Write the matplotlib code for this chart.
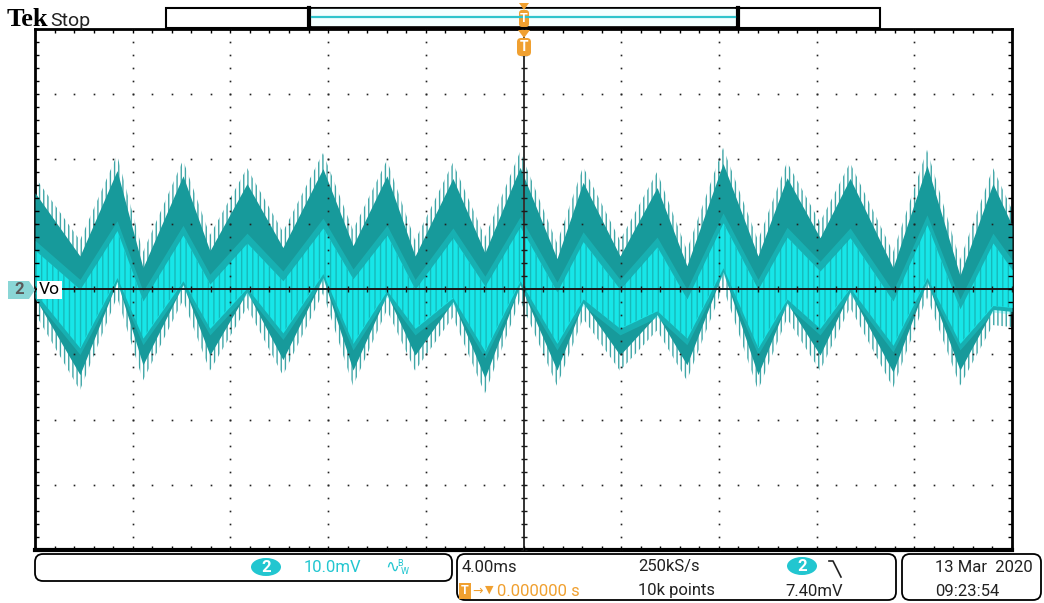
import numpy as np
import matplotlib.pyplot as plt
from matplotlib.patches import FancyBboxPatch, Rectangle, Polygon, Ellipse

plt.rcParams['font.family'] = ['Roboto', 'DejaVu Sans']
plt.rcParams['hatch.linewidth'] = 1.0

W, H = 1044, 603

# channel 2 (Vo) envelope, 4 ms/div, 10 mV/div
t_ms = [-20.0, -18.16, -16.64, -15.58, -13.94, -12.84, -11.32, -9.85, -8.21, -6.98,
        -5.59, -4.44, -2.89, -1.58, -0.14, 1.37, 2.44, 3.95, 5.47, 6.69,
        8.17, 9.60, 10.79, 12.14, 13.37, 15.13, 16.52, 17.87, 19.22, 20.0]
upper_mv = [17.2, 7.5, 20.6, 5.7, 19.8, 8.3, 18.6, 8.8, 20.9, 9.1,
            19.8, 7.5, 19.4, 8.0, 21.1, 7.1, 18.8, 7.5, 18.0, 6.0,
            21.7, 7.5, 19.5, 10.3, 19.4, 5.7, 21.4, 4.5, 18.6, 12.2]
lower_mv = [-3.7, -15.5, -1.2, -14.0, -1.7, -12.5, -2.8, -13.2, -0.6, -14.8,
            -3.2, -12.5, -4.3, -16.0, -1.7, -14.8, -4.5, -12.5, -6.3, -14.0,
            0.3, -15.5, -4.5, -12.5, -2.8, -15.1, -1.2, -14.8, -5.5, -5.8]
# brightest (most frequently hit) part of the trace
core_top_mv = [6.0, 0.0, 9.0, -1.8, 8.3, 0.8, 7.1, 1.3, 9.4, 1.6,
               8.3, 0.0, 7.9, 0.5, 9.6, -0.4, 7.3, 0.0, 6.5, -1.5,
               10.2, 0.0, 8.0, 2.8, 7.9, -1.8, 9.9, -3.0, 7.1, 3.0]
core_bot_mv = [-0.5, -9.0, 1.8, -7.5, 1.3, -6.0, 0.2, -6.7, 2.4, -8.3,
               -0.2, -6.0, -1.3, -9.5, 1.3, -8.3, -1.5, -6.0, -3.3, -7.5,
               3.3, -9.0, -1.5, -6.0, 0.2, -8.6, 1.8, -8.3, -2.5, -2.8]

ch_scale = "10.0mV"
time_scale = "4.00ms"
sample_rate = "250kS/s"
record_len = "10k points"
trig_level = "7.40mV"
trig_pos = "0.000000 s"
date_str = "13 Mar  2020"
clock_str = "09:23:54"

TEAL = '#179a9b'
SPIKE = '#3ea6a7'
CYAN = '#17e6e8'
ORANGE = '#f0a030'
CH2 = '#22c6d0'
FRINGE = 2.4

t = np.array(t_ms)
up = np.array(upper_mv)
lo = np.array(lower_mv)
ct = np.array(core_top_mv)
cb = np.array(core_bot_mv)

fig = plt.figure(figsize=(W / 100, H / 100), dpi=100)

# scope graticule
ax = fig.add_axes([35 / W, 1 - 550 / H, 977 / W, 521.5 / H])
ax.set_xlim(-20, 20)
ax.set_ylim(-40, 40)
ax.set_xticks([])
ax.set_yticks([])
for side in ax.spines.values():
    side.set_linewidth(2)
    side.set_color('black')
ax.spines['bottom'].set_linewidth(3)

# trace: spiky fringe, solid body, bright core with streaks
ax.fill_between(t, up, lo, facecolor='none', edgecolor=SPIKE, hatch='||||', linewidth=0, zorder=2)
ax.fill_between(t, up - FRINGE, lo + FRINGE, color=TEAL, linewidth=0, zorder=3)
ax.fill_between(t, ct + 1.5, cb - 1.0, color=CYAN, alpha=0.3, linewidth=0, zorder=4)
ax.fill_between(t, ct, cb, color=CYAN, linewidth=0, zorder=4)
ax.fill_between(t, ct, cb, facecolor='none', edgecolor=TEAL, alpha=0.6,
                hatch='|||', linewidth=0, zorder=4)

gx = np.arange(-20, 20.01, 0.8)
gy = np.arange(-40, 40.01, 2)
for xv in (-16, -12, -8, -4, 4, 8, 12, 16):
    ax.plot(np.full_like(gy, xv), gy, ls='none', marker='s', ms=1.2, mew=0, color='#222', zorder=6)
for yv in (-30, -20, -10, 10, 20, 30):
    ax.plot(gx, np.full_like(gx, yv), ls='none', marker='s', ms=1.2, mew=0, color='#222', zorder=6)

ax.axhline(0, color='#1a1a1a', lw=1.4, zorder=7)
ax.axvline(0, color='#333', lw=1.4, zorder=7)
ax.plot(gx, np.zeros_like(gx), ls='none', marker='|', ms=4, mew=1, color='#1a1a1a', zorder=7)
ax.plot(np.zeros_like(gy), gy, ls='none', marker='_', ms=5, mew=1, color='#1a1a1a', zorder=7)

# edge ticks
ax.plot(gx, np.full_like(gx, 40), ls='none', marker='|', ms=6, mew=1, color='black', zorder=7)
ax.plot(gx, np.full_like(gx, -40), ls='none', marker='|', ms=6, mew=1, color='black', zorder=7)
ax.plot(np.full_like(gy, -20), gy, ls='none', marker='_', ms=6, mew=1, color='black', zorder=7)
ax.plot(np.full_like(gy, 20), gy, ls='none', marker='_', ms=6, mew=1, color='black', zorder=7)

# screen chrome in pixel coordinates
ui = fig.add_axes([0, 0, 1, 1], zorder=3)
ui.set_xlim(0, W)
ui.set_ylim(H, 0)
ui.axis('off')

ui.text(7, 26, 'Tek', family='Liberation Serif', weight='bold', fontsize=19, va='baseline')
ui.text(50, 26, 'Stop', fontsize=14, va='baseline', color='#222')

# record view bar
ui.add_patch(Rectangle((166, 7.5), 714, 20, fill=False, ec='black', lw=1.5))
ui.add_patch(FancyBboxPatch((309, 8), 429, 19, boxstyle='round,pad=0,rounding_size=3',
                            fc='#f4ffff', ec='black', lw=1.2))
ui.plot([309, 309], [8, 27], color='black', lw=3)
ui.plot([738, 738], [8, 27], color='black', lw=3)
ui.plot([312, 735], [17, 17], color='#30c4cc', lw=1.6)

# trigger position markers
ui.add_patch(Polygon([(519, 3), (529, 3), (524, 10)], closed=True, fc=ORANGE, ec='none'))
ui.add_patch(FancyBboxPatch((519, 10), 10, 17, boxstyle='round,pad=0,rounding_size=3', fc=ORANGE, ec='none'))
ui.text(524, 19, 'T', color='white', fontsize=9, weight='bold', ha='center', va='center')
ui.add_patch(Polygon([(518, 30), (530, 30), (524, 38)], closed=True, fc=ORANGE, ec='none'))
ui.add_patch(FancyBboxPatch((517, 38), 14, 18, boxstyle='round,pad=0,rounding_size=4', fc=ORANGE, ec='none'))
ui.text(524, 47, 'T', color='white', fontsize=10, weight='bold', ha='center', va='center')

# channel ground marker and label
ui.add_patch(Polygon([(8, 281), (29, 281), (35, 290), (29, 299), (8, 299)], closed=True, fc='#8ad6d6', ec='none'))
ui.text(19, 290, '2', color='#5a5a5a', fontsize=12, weight='bold', ha='center', va='center')
ui.add_patch(Rectangle((37, 281), 25, 18, fc='white', ec='none'))
ui.text(39, 290, 'Vo', color='black', fontsize=12.5, va='center')

# status bar
def status_box(x0, y0, w, h):
    ui.add_patch(FancyBboxPatch((x0, y0), w, h, boxstyle='round,pad=0,rounding_size=8',
                                fc='white', ec='black', lw=1.3))

def ch_badge(x, y):
    ui.add_patch(Ellipse((x, y), 30, 18, fc=CH2, ec='none'))
    ui.text(x, y + 0.5, '2', color='white', fontsize=12, weight='bold', ha='center', va='center')

status_box(35, 554, 417, 27)
ch_badge(266, 567)
ui.text(304, 567, ch_scale, color=CH2, fontsize=12, va='center')
ui.text(385, 567, '∿', color=CH2, fontsize=12, va='center', family='DejaVu Sans')
ui.text(397, 563, 'B', color=CH2, fontsize=6.5, va='center')
ui.text(401, 571, 'W', color=CH2, fontsize=6.5, va='center')

status_box(457, 554, 439, 46)
ui.text(462, 567, time_scale, fontsize=12, va='center', color='#222')
ui.text(638, 567, sample_rate, fontsize=12, va='center', color='#222')
ui.text(638, 591, record_len, fontsize=12, va='center', color='#222')
ch_badge(802, 566)
ui.plot([829, 833, 841], [561, 561, 577], color='#222', lw=1.2)
ui.text(785, 591, trig_level, fontsize=12, va='center', color='#222')
ui.add_patch(Rectangle((459, 583), 12, 16, fc=ORANGE, ec='none'))
ui.text(465, 591, 'T', color='white', fontsize=9, weight='bold', ha='center', va='center')
ui.text(472, 591, '→', color=ORANGE, fontsize=9, va='center', family='DejaVu Sans')
ui.text(485, 590, '▼', color=ORANGE, fontsize=8, va='center', family='DejaVu Sans')
ui.text(497, 591, trig_pos, color=ORANGE, fontsize=12, va='center')

status_box(902, 554, 139, 46)
ui.text(935, 567, date_str, fontsize=12, va='center', color='#222')
ui.text(935, 591, clock_str, fontsize=12, va='center', color='#222')

fig.savefig('out.png', dpi=100)
